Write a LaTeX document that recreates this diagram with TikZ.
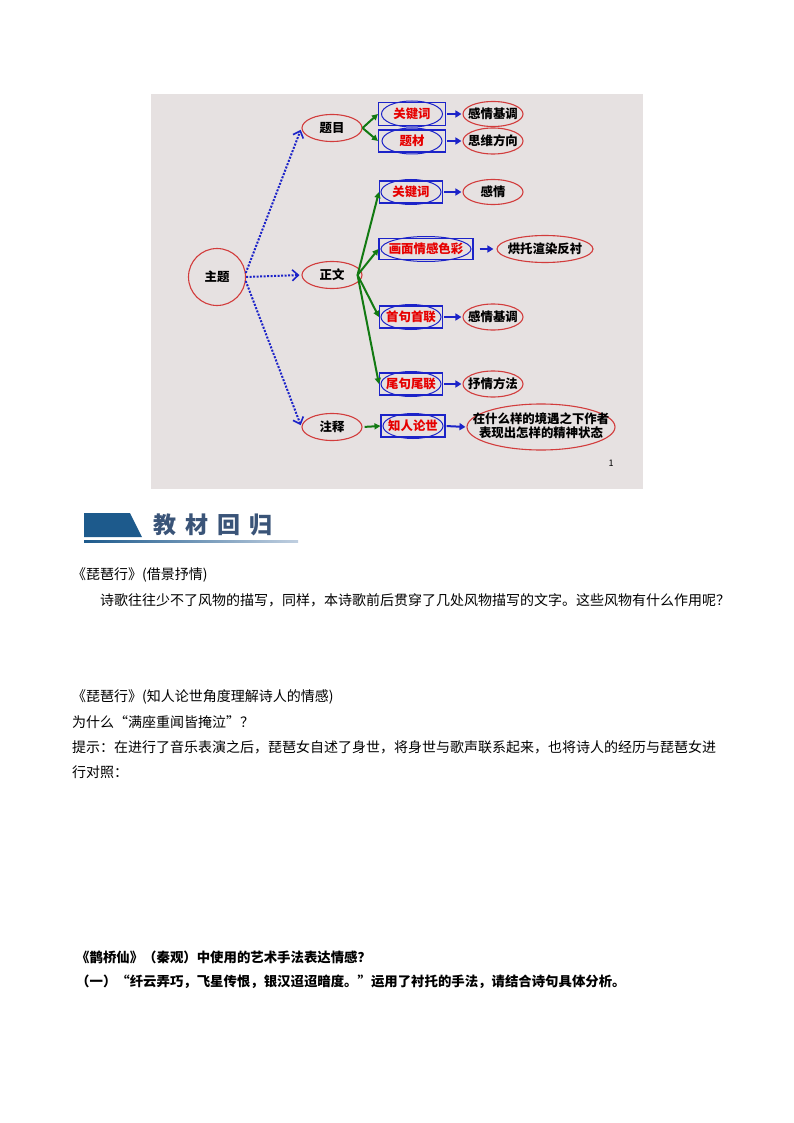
\documentclass[tikz,border=0pt]{standalone}
\usepackage{fontspec}
\setmainfont{Noto Sans CJK SC}
\usetikzlibrary{arrows.meta,shapes.geometric}
\definecolor{bgc}{HTML}{E6E1E1}
\definecolor{ered}{HTML}{D23C3C}
\definecolor{eblue}{HTML}{1C23C8}
\definecolor{tred}{HTML}{E60000}
\definecolor{egreen}{HTML}{127A12}
\definecolor{hdblue}{HTML}{1D5A8C}
\definecolor{hdtext}{HTML}{3A5478}
\definecolor{hdlight}{HTML}{C0CFE0}
\newcommand{\dfont}{\fontsize{12.4pt}{15pt}\selectfont\bfseries}
\newcommand{\zw}[1]{\makebox[0pt]{#1}}
\begin{document}
\begin{tikzpicture}[x=1pt,y=-1pt,
  oval/.style={ellipse, draw=ered, line width=1.1pt, inner sep=0pt, font=\dfont, minimum width=60pt, minimum height=27pt},
  kbox/.style={rectangle, draw=eblue, line width=1.1pt, inner sep=0pt, text=tred, font=\dfont, minimum height=22pt, minimum width=64pt},
  kell/.style={draw=eblue, line width=1pt},
  dotarr/.style={eblue, line width=2pt, dash pattern=on 2pt off 1.5pt, -{Straight Barb[length=6pt,width=11pt,line width=1.6pt]}, shorten >=2pt},
  garr/.style={egreen, line width=2pt, -{Triangle[length=6pt,width=6pt]}},
  barr/.style={eblue, line width=2pt, -{Triangle[length=6pt,width=7pt]}, shorten >=1pt, shorten <=1pt},
  body/.style={anchor=west, inner sep=0pt, font=\fontsize{14pt}{17pt}\selectfont},
  bbody/.style={anchor=west, inner sep=0pt, font=\fontsize{13.4pt}{16pt}\selectfont\bfseries}]
\useasboundingbox (0,0) rectangle (794,1123);
\fill[white] (0,0) rectangle (794,1123);
% diagram background
\fill[bgc] (151,94) rectangle (643,489);

% level nodes
\node[circle, draw=ered, line width=1.1pt, minimum size=57pt, inner sep=0pt, font=\dfont] (zt) at (217,277) {主题};
\node[oval] (tm) at (332,128) {\zw{题目}};
\node[oval] (zw) at (332,275) {\zw{正文}};
\node[oval] (zs) at (332,427) {\zw{注释}};

% boxes
\node[kbox, minimum width=67pt, minimum height=23pt] (k1) at (412,114) {关键词};
\node[kbox, minimum width=67pt] (k2) at (412,141) {题材};
\node[kbox, minimum width=63pt] (k3) at (411,192) {关键词};
\node[kbox, minimum width=94pt, minimum height=21pt] (k4) at (426,249) {画面情感色彩};
\node[kbox, minimum width=63pt] (k5) at (411,317) {首句首联};
\node[kbox, minimum width=63pt] (k6) at (411,384) {尾句尾联};
\node[kbox, minimum width=64pt] (k7) at (413,426) {知人论世};
\draw[kell] (k1.center) ellipse [x radius=30.5pt, y radius=13pt];
\draw[kell] (k2.center) ellipse [x radius=30pt, y radius=13pt];
\draw[kell] (k3.center) ellipse [x radius=30pt, y radius=12.5pt];
\draw[kell] (k4.center) ellipse [x radius=45pt, y radius=12.5pt];
\draw[kell] (k5.center) ellipse [x radius=30pt, y radius=12.5pt];
\draw[kell] (k6.center) ellipse [x radius=30pt, y radius=12.5pt];
\draw[kell] (k7.center) ellipse [x radius=30pt, y radius=12.5pt];

% result ovals
\node[oval, minimum height=25pt] (o1) at (493,114) {\zw{感情基调}};
\node[oval, minimum height=26pt] (o2) at (493,141) {\zw{思维方向}};
\node[oval, minimum height=25pt] (o3) at (493,192) {\zw{感情}};
\node[oval, minimum width=96pt, minimum height=27pt] (o4) at (545,249) {\zw{烘托渲染反衬}};
\node[oval, minimum height=26pt] (o5) at (493,317) {\zw{感情基调}};
\node[oval, minimum height=26pt] (o6) at (493,384) {\zw{抒情方法}};
\node[oval, minimum width=148pt, minimum height=46pt] (o7) at (541,427)
  {\zw{\begin{tabular}{@{}c@{}}在什么样的境遇之下作者\\[-1pt]表现出怎样的精神状态\end{tabular}}};

\node[inner sep=0pt, font=\fontsize{9pt}{10pt}\selectfont] (pg) at (611,463) {1};

% dotted arrows
\draw[dotarr] (zt.8) -- (tm.west);
\draw[dotarr] (zt.east) -- (zw.west);
\draw[dotarr] (zt.-8) -- (zs.west);

% green arrows
\draw[garr] (tm.east) -- (k1.west);
\draw[garr] (tm.east) -- (k2.west);
\draw[garr] ([xshift=-5pt]zw.east) -- (k3.west);
\draw[garr] ([xshift=-5pt]zw.east) -- (k4.west);
\draw[garr] ([xshift=-5pt]zw.east) -- (k5.west);
\draw[garr] ([xshift=-5pt]zw.east) -- (k6.west);
\draw[garr, shorten <=2pt] (zs.east) -- (k7.west);

% blue arrows
\draw[barr] (k1.east) -- (o1.west);
\draw[barr] (k2.east) -- (o2.west);
\draw[barr] (k3.east) -- (o3.west);
\draw[barr, shorten <=6pt, shorten >=3pt] (k4.east) -- (o4.west);
\draw[barr] (k5.east) -- (o5.west);
\draw[barr] (k6.east) -- (o6.west);
\draw[barr] (k7.east) -- (o7.west);

% header
\fill[hdblue] (84,513) -- (130,513) -- (142,537) -- (84,537) -- cycle;
\shade[left color=hdblue, right color=hdlight] (84,540) rectangle (298,542.2);
\node[anchor=west, inner sep=0pt, text=hdtext, font=\fontsize{23pt}{26pt}\selectfont\bfseries] (hd) at (153,525) {教\hspace{9pt}材\hspace{9pt}回\hspace{9pt}归};

% body text
\node[body] (t1) at (72,575) {《琵琶行》(借景抒情)};
\node[body] (t2) at (100,600) {诗歌往往少不了风物的描写，同样，本诗歌前后贯穿了几处风物描写的文字。这些风物有什么作用呢？};
\node[body] (t3) at (72,697) {《琵琶行》(知人论世角度理解诗人的情感)};
\node[body] (t4) at (72,722) {为什么“满座重闻皆掩泣”？};
\node[body] (t5) at (72,747) {提示：在进行了音乐表演之后，琵琶女自述了身世，将身世与歌声联系起来，也将诗人的经历与琵琶女进};
\node[body] (t6) at (72,772) {行对照：};
\node[bbody] (t7) at (76,957) {《鹊桥仙》（秦观）中使用的艺术手法表达情感？};
\node[bbody] (t8) at (76,982) {（一）“纤云弄巧，飞星传恨，银汉迢迢暗度。”运用了衬托的手法，请结合诗句具体分析。};
\end{tikzpicture}
\end{document}
